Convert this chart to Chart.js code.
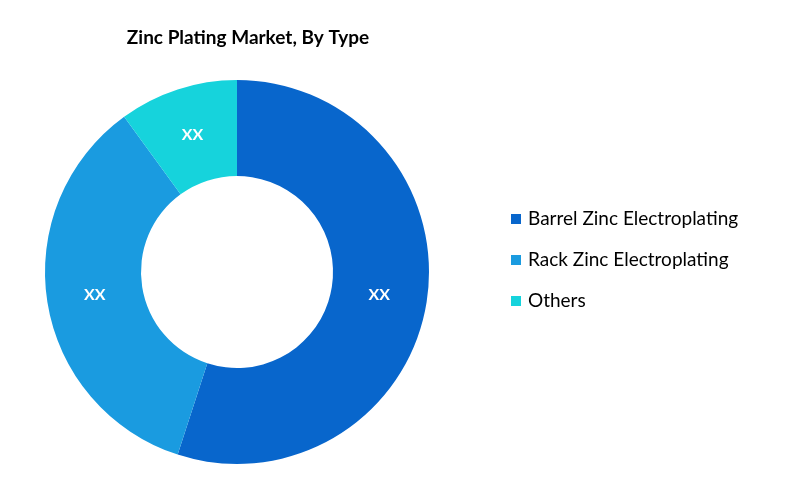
<!DOCTYPE html>
<html>
<head>
<meta charset="utf-8">
<script src="https://cdn.jsdelivr.net/npm/chart.js@4"></script>
<style>
  html, body { margin: 0; padding: 0; background: #fff; }
  #wrap { width: 800px; height: 496px; }
</style>
</head>
<body>
<div id="wrap"><canvas id="chart" width="800" height="496"></canvas></div>
<script>
const chartTitle = 'Zinc Plating Market, By Type';
const categories = ['Barrel Zinc Electroplating', 'Rack Zinc Electroplating', 'Others'];
const values = [55, 35, 10];
const sliceLabels = ['XX', 'XX', 'XX'];
const colors = ['#0866cc', '#1a9be0', '#16d3dc'];

// title, slice labels and the right-hand legend
const overlay = {
  id: 'overlay',
  afterDraw(chart) {
    const ctx = chart.ctx;
    ctx.save();
    ctx.fillStyle = '#000';
    ctx.font = 'bold 19px Lato, "Open Sans", sans-serif';
    ctx.textAlign = 'center';
    ctx.textBaseline = 'middle';
    ctx.fillText(chartTitle, 248, 38);

    const meta = chart.getDatasetMeta(0);
    ctx.fillStyle = '#fff';
    ctx.font = 'bold 16px Lato, "Open Sans", sans-serif';
    meta.data.forEach((arc, i) => {
      const p = arc.tooltipPosition();
      ctx.fillText(sliceLabels[i], p.x, p.y);
    });

    ctx.textAlign = 'left';
    ctx.font = '19px Lato, "Open Sans", sans-serif';
    categories.forEach((c, i) => {
      const y = 219 + i * 41;
      ctx.fillStyle = colors[i];
      ctx.fillRect(511, y - 5, 10, 10);
      ctx.fillStyle = '#000';
      ctx.fillText(c, 528, y);
    });
    ctx.restore();
  }
};

new Chart(document.getElementById('chart'), {
  type: 'doughnut',
  data: {
    labels: categories,
    datasets: [{ data: values, backgroundColor: colors, borderWidth: 0 }]
  },
  options: {
    responsive: false,
    animation: false,
    cutout: '50%',
    layout: { padding: { left: 45, right: 371, top: 80, bottom: 32 } },
    plugins: { legend: { display: false }, tooltip: { enabled: false } }
  },
  plugins: [overlay]
});
</script>
</body>
</html>
